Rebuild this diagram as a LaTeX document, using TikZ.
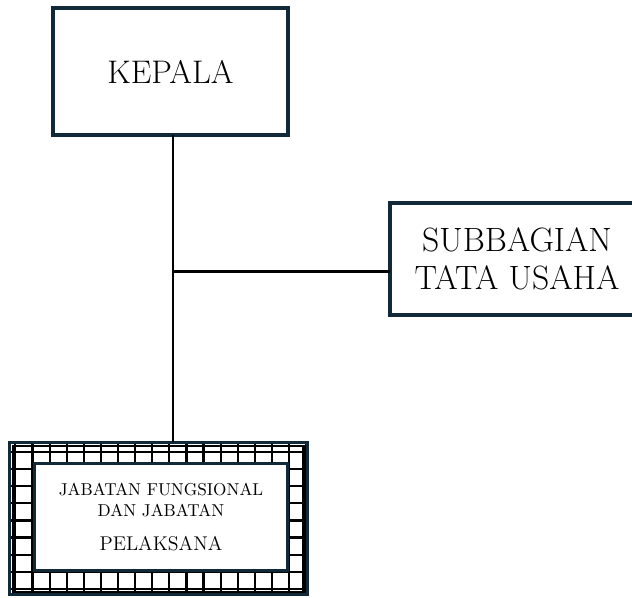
\documentclass[tikz,border=0pt]{standalone}
\usepackage{tikz}
\usetikzlibrary{positioning}
\definecolor{boxline}{HTML}{12293A}
\tikzset{main box/.style={rectangle,draw=boxline,line width=1.85pt,fill=white,inner sep=0pt,outer sep=0pt,align=center},
grid box/.style={rectangle,fill=white,inner sep=0pt,outer sep=0pt,minimum width=5.95cm,minimum height=3.06cm},
link/.style={draw=black,line width=1.5pt},
grid line/.style={draw=black,line width=1.25pt},}

\begin{document}
\begin{tikzpicture}[x=0.02cm,y=-0.02cm]
    \useasboundingbox (0,0) rectangle (632,598);
    \node[main box,minimum width=4.7cm,minimum height=2.54cm,font=\fontsize{18.6}{22}\selectfont] (kepala) at (170.5,71.5) {KEPALA};
    \node[main box,minimum width=5.08cm,minimum height=2.24cm,font=\fontsize{19.2}{21.7}\selectfont] (tatausaha) at (517,259) {SUBBAGIAN\\TATA USAHA};
    \node[grid box] (jabframe) at (158.3,518.5) {};

    % grid round the lower box
    \begin{scope}
    \clip (jabframe.north west) rectangle (jabframe.south east);
    \foreach \gx in {-1,...,16}
        \draw[grid line] (32.5+17.1*\gx,430) -- (32.5+17.1*\gx,600);
    \foreach \gy in {0,...,8}
        \draw[grid line] (0,452+17.1*\gy) -- (320,452+17.1*\gy);
    \draw[grid line] ([shift={(4,4)}]jabframe.north west) rectangle ([shift={(-3.5,-2.5)}]jabframe.south east);
    \end{scope}
    \draw[boxline,line width=1.7pt] (jabframe.north west) rectangle (jabframe.south east);

    \node[main box,line width=1.7pt,minimum width=5.08cm,minimum height=2.13cm,font=\fontsize{9.8}{12.5}\selectfont] (jabatan) at (161,517) {JABATAN FUNGSIONAL\\DAN JABATAN\\[6.8pt]\fontsize{11.3}{12.5}\selectfont PELAKSANA};
    \coordinate (junction) at (173,271.5);

    \path[link]
    (kepala.south -| junction) -- (jabframe.north -| junction)
    (junction) -- (tatausaha.west |- junction);
\end{tikzpicture}
\end{document}
